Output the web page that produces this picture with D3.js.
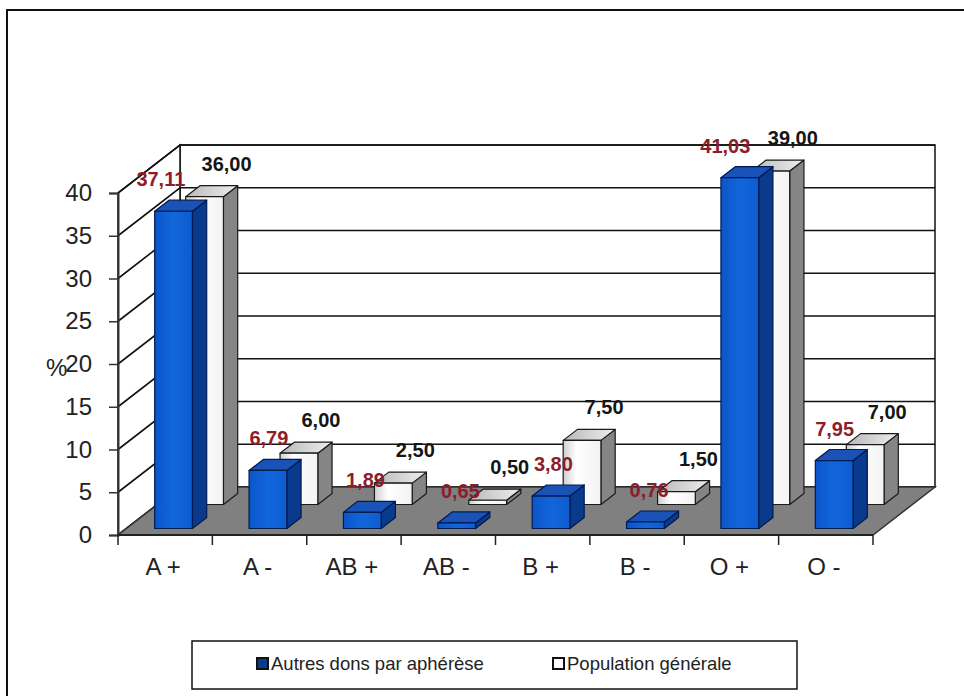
<!DOCTYPE html>
<html>
<head>
<meta charset="utf-8">
<script src="https://cdn.jsdelivr.net/npm/d3@7"></script>
<style>
  body { margin: 0; background: #fff; }
  svg { display: block; font-family: Arial, "Liberation Sans", sans-serif; }
</style>
</head>
<body>
<script>
// donnees du graphique
const categories = ['A +', 'A -', 'AB +', 'AB -', 'B +', 'B -', 'O +', 'O -'];
const seriesNames = ['Autres dons par aphérèse', 'Population générale'];
const autresDons = [37.11, 6.79, 1.89, 0.65, 3.8, 0.76, 41.03, 7.95];
const populationGenerale = [36.0, 6.0, 2.5, 0.5, 7.5, 1.5, 39.0, 7.0];
const yTicks = [0, 5, 10, 15, 20, 25, 30, 35, 40];

const width = 964, height = 696;
const svg = d3.select('body').append('svg').attr('width', width).attr('height', height);

// cadre exterieur (coupe a droite et en bas)
svg.append('path')
  .attr('d', `M7,${height} L7,10 L${width},10`)
  .attr('fill', 'none').attr('stroke', '#111').attr('stroke-width', 2);

// geometrie 3D simple (projection oblique)
const left = 118, right = 873, base = 535;
const depthX = 62, depthY = -48;

const x = d3.scaleBand().domain(categories).range([left, right]).paddingInner(0.6).paddingOuter(0.3);
const z = d3.scaleBand().domain(seriesNames).range([0, 1]).paddingInner(0.54).paddingOuter(0.27);
const y = d3.scaleLinear().domain([0, 40]).range([base, base - 342]);

const proj = (px, v, pz) => [px + pz * depthX, y(v) + pz * depthY];
const poly = (pts) => 'M' + pts.map((p) => p.join(',')).join('L') + 'Z';

// degrades
const defs = svg.append('defs');
function grad(id, stops, x2 = '100%', y2 = '0%') {
  const g = defs.append('linearGradient').attr('id', id)
    .attr('x1', '0%').attr('y1', '0%').attr('x2', x2).attr('y2', y2);
  stops.forEach(([o, c]) => g.append('stop').attr('offset', o).attr('stop-color', c));
}
grad('whiteFront', [['0%', '#cfcfcf'], ['35%', '#ffffff'], ['100%', '#f2f2f2']]);
grad('whiteTop', [['0%', '#b8b8b8'], ['100%', '#eeeeee']]);
grad('blueFront', [['0%', '#0b55c8'], ['50%', '#1266dc'], ['100%', '#0d5ccf']]);

const walls = svg.append('g');

// mur du fond
const zMax = 1;
walls.append('path')
  .attr('d', poly([proj(left, 0, zMax), proj(right, 0, zMax), proj(right, 40, zMax), proj(left, 40, zMax)]))
  .attr('fill', '#fff').attr('stroke', '#111').attr('stroke-width', 1.5);
// mur de gauche
walls.append('path')
  .attr('d', poly([proj(left, 0, 0), proj(left, 0, zMax), proj(left, 40, zMax), proj(left, 40, 0)]))
  .attr('fill', '#fff').attr('stroke', '#111').attr('stroke-width', 1.5);

// quadrillage
yTicks.forEach((t) => {
  const a = proj(left, t, 0), b = proj(left, t, zMax), c = proj(right, t, zMax);
  walls.append('path').attr('d', `M${a}L${b}L${c}`)
    .attr('fill', 'none').attr('stroke', '#111').attr('stroke-width', 1.6);
});

// sol
walls.append('path')
  .attr('d', poly([proj(left, 0, 0), proj(right, 0, 0), proj(right, 0, zMax), proj(left, 0, zMax)]))
  .attr('fill', '#808080').attr('stroke', '#333').attr('stroke-width', 1.5);

// axe des valeurs
const yAxis = svg.append('g').attr('transform', `translate(${left},0)`)
  .call(d3.axisLeft(y).tickValues(yTicks).tickSize(9).tickPadding(17).tickFormat(d3.format('d')));
yAxis.select('.domain').attr('stroke', '#333').attr('stroke-width', 2);
yAxis.selectAll('.tick line').attr('stroke', '#333').attr('stroke-width', 1.5);
yAxis.selectAll('.tick text').attr('font-size', 24).attr('fill', '#222')
  .attr('font-family', 'Arial, "Liberation Sans", sans-serif');

svg.append('text').attr('x', 46).attr('y', y(20) + 4).attr('dy', '0.32em')
  .attr('font-size', 24).attr('fill', '#222').text('%');

// axe des categories
const xAxis = svg.append('g');
xAxis.append('line').attr('x1', left).attr('x2', right).attr('y1', base).attr('y2', base)
  .attr('stroke', '#222').attr('stroke-width', 2);
d3.range(categories.length + 1).forEach((i) => {
  const px = left + i * x.step();
  xAxis.append('line').attr('x1', px).attr('x2', px).attr('y1', base).attr('y2', base + 10)
    .attr('stroke', '#222').attr('stroke-width', 1.5);
});
xAxis.selectAll('text.cat').data(categories).join('text').attr('class', 'cat')
  .attr('x', (d) => x(d) + x.bandwidth() / 2 - 2)
  .attr('y', 575)
  .attr('text-anchor', 'middle').attr('font-size', 24).attr('fill', '#222')
  .text((d) => d);

// barres
const styles = [
  { front: 'url(#blueFront)', top: '#1a52b6', side: '#0a3a8c', stroke: '#001a52' },
  { front: 'url(#whiteFront)', top: 'url(#whiteTop)', side: '#858585', stroke: '#1a1a1a' },
];
const series = [autresDons, populationGenerale];

function drawBar(g, cat, v, s) {
  const xa = x(cat), xb = x(cat) + x.bandwidth();
  const za = z(seriesNames[s]), zb = za + z.bandwidth();
  const st = styles[s];
  g.append('path').attr('d', poly([proj(xb, 0, za), proj(xb, v, za), proj(xb, v, zb), proj(xb, 0, zb)]))
    .attr('fill', st.side).attr('stroke', st.stroke).attr('stroke-width', 1.2).attr('stroke-linejoin', 'round');
  g.append('path').attr('d', poly([proj(xa, v, za), proj(xb, v, za), proj(xb, v, zb), proj(xa, v, zb)]))
    .attr('fill', st.top).attr('stroke', st.stroke).attr('stroke-width', 1.2).attr('stroke-linejoin', 'round');
  g.append('path').attr('d', poly([proj(xa, 0, za), proj(xb, 0, za), proj(xb, v, za), proj(xa, v, za)]))
    .attr('fill', st.front).attr('stroke', st.stroke).attr('stroke-width', 1.2).attr('stroke-linejoin', 'round');
}

const bars = svg.append('g');
// rangee du fond d'abord, puis celle de devant
[1, 0].forEach((s) => {
  categories.forEach((cat, i) => drawBar(bars.append('g'), cat, series[s][i], s));
});

// etiquettes de donnees
const fmt = (v) => d3.format('.2f')(v).replace('.', ',');
const labels = svg.append('g').attr('font-size', 20).attr('font-weight', 'bold').attr('text-anchor', 'middle');
categories.forEach((cat, i) => {
  const cx = x(cat) + x.bandwidth() / 2;
  // Autres dons
  const vb = autresDons[i];
  const pb = proj(cx, vb, z(seriesNames[0]));
  labels.append('text').attr('x', pb[0] + 4 - 0.45 * vb).attr('y', pb[1] - 32).attr('dy', '0.35em')
    .attr('fill', '#8e1c2a').text(fmt(vb));
  // Population generale
  const vw = populationGenerale[i];
  const pw = proj(cx, vw, z(seriesNames[1]));
  labels.append('text').attr('x', pw[0] + 22).attr('y', pw[1] - 33).attr('dy', '0.35em')
    .attr('fill', '#151515').text(fmt(vw));
});

// legende
const legend = svg.append('g');
legend.append('rect').attr('x', 192).attr('y', 641).attr('width', 605).attr('height', 48)
  .attr('fill', '#fff').attr('stroke', '#111').attr('stroke-width', 1.5);
const legendX = [257, 553];
const swatch = ['#0a3a8c', '#ffffff'];
seriesNames.forEach((name, i) => {
  legend.append('rect').attr('x', legendX[i]).attr('y', 658).attr('width', 11).attr('height', 11)
    .attr('fill', swatch[i]).attr('stroke', '#111').attr('stroke-width', 2);
  legend.append('text').attr('x', legendX[i] + 14).attr('y', 670)
    .attr('font-size', 18.5).attr('fill', '#222').text(name);
});
</script>
</body>
</html>
